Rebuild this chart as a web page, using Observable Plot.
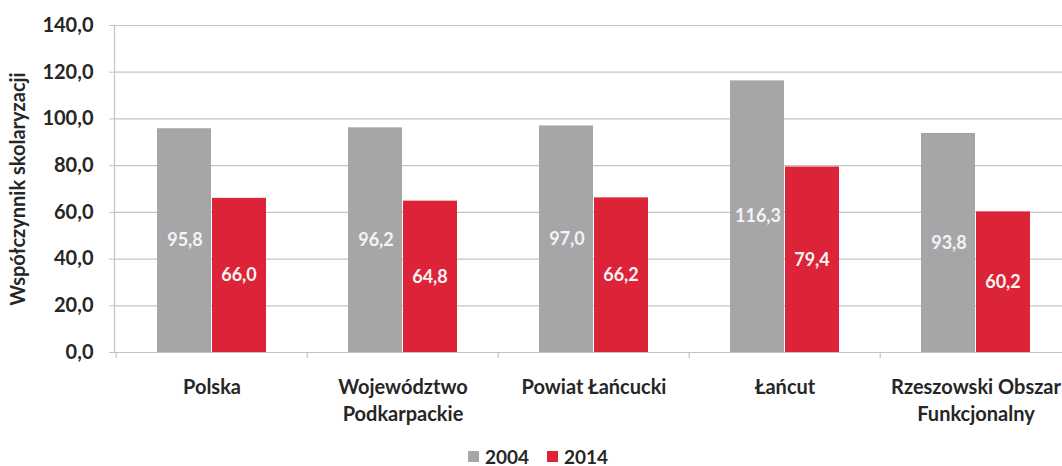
<!DOCTYPE html>
<html>
<head>
<meta charset="utf-8">
<script src="https://cdn.jsdelivr.net/npm/d3@7"></script>
<script src="https://cdn.jsdelivr.net/npm/@observablehq/plot@0.6"></script>
<style>
  html, body { margin: 0; padding: 0; background: #fff; overflow: hidden; width: 1062px; height: 466px; }
  #chart { width: 1080px; }
  .legend { display: flex; justify-content: center; align-items: center; height: 20px; font-family: Lato, sans-serif; font-weight: bold; font-size: 19px; color: #262626; width: 1062px; padding-left: 14px; box-sizing: border-box; }
  .legend .sw { display: inline-block; width: 11px; height: 11px; margin-right: 6px; }
  .legend .item { display: inline-flex; align-items: center; margin: 0 9px; }
</style>
</head>
<body>
<div id="chart"></div>
<div class="legend" id="legend"></div>
<script>
const categories = ["Polska", "Województwo\nPodkarpackie", "Powiat Łańcucki", "Łańcut", "Rzeszowski Obszar\nFunkcjonalny"];
const years = ["2004", "2014"];
const values2004 = [95.8, 96.2, 97.0, 116.3, 93.8];
const values2014 = [66.0, 64.8, 66.2, 79.4, 60.2];
const yTicks = [0, 20, 40, 60, 80, 100, 120, 140];
const yTitle = "Współczynnik skolaryzacji";
const colors = {"2004": "#a6a6a8", "2014": "#dc2338"};

const data2004 = categories.map((c, i) => ({cat: c, year: "2004", value: values2004[i]}));
const data2014 = categories.map((c, i) => ({cat: c, year: "2014", value: values2014[i]}));
const fmt = d => d.toFixed(1).replace(".", ",");

const chart = Plot.plot({
  width: 1080,
  height: 446,
  marginLeft: 114,
  marginRight: 8,
  marginTop: 25,
  marginBottom: 94,
  style: {fontFamily: "Lato, sans-serif", fontWeight: "bold", color: "#262626", background: "#fff", overflow: "visible"},
  x: {domain: categories, padding: 0, label: null},
  y: {domain: [0, 140], label: null},
  marks: [
    Plot.ruleY(yTicks, {stroke: "#c4c4c4", strokeWidth: 1.2}),
    Plot.ruleX(categories, {x: d => d, y1: 0, y2: 0, insetBottom: -6, dx: -95.8, stroke: "#c4c4c4", strokeWidth: 1.2}),
    Plot.frame({anchor: "left", stroke: "#c4c4c4", strokeWidth: 1.2}),
    Plot.barY(data2004, {x: "cat", y: "value", fill: colors["2004"], insetLeft: 41, insetRight: 96}),
    Plot.barY(data2014, {x: "cat", y: "value", fill: colors["2014"], insetLeft: 96, insetRight: 41}),
    Plot.text(data2004, {x: "cat", y: d => d.value / 2, text: d => fmt(d.value), dx: -27, fill: "#f4f4f4", fontSize: 18, fontWeight: "bold"}),
    Plot.text(data2014, {x: "cat", y: d => d.value / 2, text: d => fmt(d.value), dx: 27, fill: "#f8f4f4", fontSize: 18, fontWeight: "bold"}),
    Plot.axisY({ticks: yTicks, tickFormat: fmt, tickSize: 5, tickPadding: 16, fontSize: 20, stroke: "#c4c4c4", label: null}),
    Plot.axisX({tickSize: 0, tickPadding: 22, fontSize: 20, lineHeight: 1.35, label: null}),
    Plot.text([yTitle], {frameAnchor: "left", textAnchor: "middle", rotate: -90, dx: -96, fontSize: 20, fontWeight: "bold", fill: "#262626"})
  ]
});
document.getElementById("chart").appendChild(chart);

const legend = document.getElementById("legend");
years.forEach(y => {
  const item = document.createElement("span");
  item.className = "item";
  const sw = document.createElement("span");
  sw.className = "sw";
  sw.style.background = colors[y];
  item.appendChild(sw);
  item.appendChild(document.createTextNode(y));
  legend.appendChild(item);
});
</script>
</body>
</html>
